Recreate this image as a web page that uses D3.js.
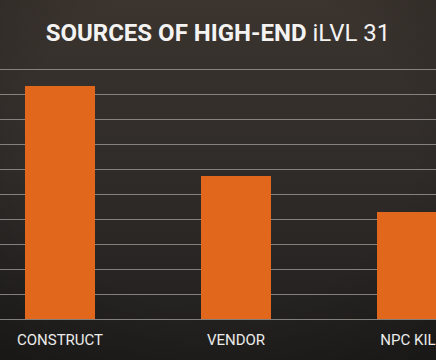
<!DOCTYPE html>
<html><head><meta charset="utf-8">
<script src="https://cdn.jsdelivr.net/npm/d3@7"></script>
<style>html,body{margin:0;padding:0;background:#2b2826;overflow:hidden}</style>
</head><body>
<svg id="c" width="436" height="360"></svg>
<script>
const categories = ["CONSTRUCT", "VENDOR", "NPC KILL"];
const values = [93.2, 57.2, 42.8];
const yTicks = [0, 10, 20, 30, 40, 50, 60, 70, 80, 90, 100];
const titleBold = "SOURCES OF HIGH-END";
const titleLight = " iLVL 31";

const W = 436, H = 360;
const svg = d3.select("#c");
const defs = svg.append("defs");
const g = defs.append("linearGradient").attr("id","bg").attr("x1",0).attr("y1",0).attr("x2",0).attr("y2",1);
g.append("stop").attr("offset","0%").attr("stop-color","#3b342f");
g.append("stop").attr("offset","45%").attr("stop-color","#302c29");
g.append("stop").attr("offset","100%").attr("stop-color","#201f1e");
const rg = defs.append("radialGradient").attr("id","vig").attr("cx","0.5").attr("cy","0.4").attr("r","0.75");
rg.append("stop").attr("offset","60%").attr("stop-color","#000").attr("stop-opacity",0);
rg.append("stop").attr("offset","100%").attr("stop-color","#000").attr("stop-opacity",0.22);
svg.append("rect").attr("width",W).attr("height",H).attr("fill","url(#bg)");
svg.append("rect").attr("width",W).attr("height",H).attr("fill","url(#vig)");

const y = d3.scaleLinear().domain([0,100]).range([319,69]);
const x = d3.scaleBand().domain(categories).range([25, 447]).paddingInner(106/176).paddingOuter(0);

svg.append("g").selectAll("line").data(yTicks).join("line")
  .attr("x1",0).attr("x2",W)
  .attr("y1",d=>Math.round(y(d))+0.5).attr("y2",d=>Math.round(y(d))+0.5)
  .attr("stroke","#9c9793").attr("stroke-opacity",0.8).attr("stroke-width",1);

svg.append("g").selectAll("rect").data(categories).join("rect")
  .attr("x",d=>x(d)).attr("width",x.bandwidth())
  .attr("y",(d,i)=>y(values[i])).attr("height",(d,i)=>y(0)-y(values[i]))
  .attr("fill","#e0671b");

svg.append("g").selectAll("text").data(categories).join("text")
  .attr("x",d=>x(d)+x.bandwidth()/2).attr("y",345)
  .attr("text-anchor","middle")
  .attr("font-family","Roboto, 'DejaVu Sans', sans-serif")
  .attr("font-size",15).attr("fill","#ecebea")
  .text(d=>d);

const t = svg.append("text").attr("x",218).attr("y",41).attr("text-anchor","middle")
  .attr("font-family","Roboto, 'DejaVu Sans', sans-serif").attr("font-size",24).attr("fill","#f4f3f2");
t.append("tspan").attr("font-weight","bold").text(titleBold);
t.append("tspan").attr("font-weight","normal").text(titleLight);
</script>
</body></html>
